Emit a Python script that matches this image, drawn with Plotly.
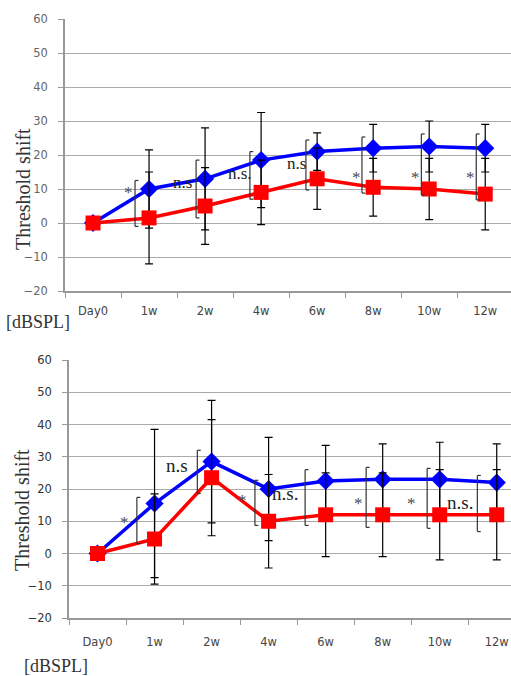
import plotly.graph_objects as go

categories = ["Day0", "1w", "2w", "4w", "6w", "8w", "10w", "12w"]

# Top chart
top_blue = [0, 10, 13, 18.5, 21, 22, 22.5, 22]
top_blue_err = [0, 11.5, 15, 14, 5.5, 7, 7.5, 7]
top_red = [0, 1.5, 5, 9, 13, 10.5, 10, 8.5]
top_red_err = [0, 13.5, 11.3, 9.5, 9, 8.5, 9, 10.5]
top_br_x = [0.75, 1.84, 2.80, 3.80, 4.80, 5.86, 6.84]
top_br_top = [12.5, 18.5, 21, 24.4, 25.3, 26.2, 26.2]
top_br_bot = [-1, 1.5, 7, 9.7, 8.8, 8.2, 6.8]
top_sig_text = ["*", "n.s", "n.s.", "n.s", "*", "*", "*"]
top_sig_x = [0.625, 1.59, 2.625, 3.64, 4.71, 5.75, 6.73]
top_sig_y = [9.1, 12, 14.7, 17.6, 13.5, 13.5, 13.5]

# Bottom chart
bot_blue = [0, 15.5, 28.5, 20, 22.5, 23, 23, 22]
bot_blue_err = [0, 23, 19, 16, 11, 11, 11.5, 12]
bot_red = [0, 4.5, 23.5, 10, 12, 12, 12, 12]
bot_red_err = [0, 14, 18, 14.5, 13, 13, 14, 14]
bot_br_x = [0.69, 1.75, 2.76, 3.64, 4.71, 5.78, 6.66]
bot_br_top = [17.4, 32, 22.7, 26, 26.7, 26.4, 24.2]
bot_br_bot = [3.1, 18.6, 8.7, 8.7, 8.1, 7.8, 6.8]
bot_sig_text = ["*", "n.s", "*", "n.s.", "*", "*", "n.s."]
bot_sig_x = [0.48, 1.39, 2.55, 3.29, 4.57, 5.5, 6.36]
bot_sig_y = [9.6, 27.3, 16.5, 18.6, 15.5, 15.5, 15.8]

yticks = [-20, -10, 0, 10, 20, 30, 40, 50, 60]

W, H = 511, 676
fig = go.Figure()

def add_series(xa, ya, blue, berr, red, rerr):
    fig.add_trace(go.Scatter(
        x=categories, y=blue, xaxis=xa, yaxis=ya, mode="lines+markers",
        line=dict(color="#0000FF", width=3.5),
        marker=dict(symbol="diamond", size=14, color="#0000FF"),
        error_y=dict(type="data", array=berr, color="black", thickness=1.2, width=4),
        showlegend=False))
    fig.add_trace(go.Scatter(
        x=categories, y=red, xaxis=xa, yaxis=ya, mode="lines+markers",
        line=dict(color="#FF0000", width=3.5),
        marker=dict(symbol="square", size=15, color="#FF0000"),
        error_y=dict(type="data", array=rerr, color="black", thickness=1.2, width=4),
        showlegend=False))

add_series("x", "y", top_blue, top_blue_err, top_red, top_red_err)
add_series("x2", "y2", bot_blue, bot_blue_err, bot_red, bot_red_err)

shapes = []
def brackets(xref, yref, bx, bt, bb):
    for x, t, b in zip(bx, bt, bb):
        d = 0.06
        ln = dict(color="#333333", width=1.2)
        shapes.append(dict(type="line", xref=xref, yref=yref, x0=x, x1=x, y0=b, y1=t, line=ln))
        shapes.append(dict(type="line", xref=xref, yref=yref, x0=x, x1=x + d, y0=t, y1=t, line=ln))
        shapes.append(dict(type="line", xref=xref, yref=yref, x0=x, x1=x + d, y0=b, y1=b, line=ln))

brackets("x", "y", top_br_x, top_br_top, top_br_bot)
brackets("x2", "y2", bot_br_x, bot_br_top, bot_br_bot)

annotations = []
def sig(xref, yref, txt, xs, ys, ns_size):
    for t, x, y in zip(txt, xs, ys):
        star = t == "*"
        annotations.append(dict(
            xref=xref, yref=yref, x=x, y=y, text=t, showarrow=False,
            xanchor="center", yanchor="middle",
            font=dict(family="Liberation Serif", size=17 if star else ns_size,
                      color="#4a4a55" if star else "#222222")))

sig("x", "y", top_sig_text, top_sig_x, top_sig_y, 17)
sig("x2", "y2", bot_sig_text, bot_sig_x, bot_sig_y, 19)

annotations += [
    dict(xref="paper", yref="paper", x=23 / W, y=1 - 189 / H, text="Threshold shift",
         textangle=-90, showarrow=False, xanchor="center", yanchor="middle",
         font=dict(family="Liberation Serif", size=20, color="#333333")),
    dict(xref="paper", yref="paper", x=22 / W, y=1 - 510 / H, text="Threshold shift",
         textangle=-90, showarrow=False, xanchor="center", yanchor="middle",
         font=dict(family="Liberation Serif", size=20, color="#333333")),
    dict(xref="paper", yref="paper", x=4 / W, y=1 - 322 / H, text="[dBSPL]",
         xanchor="left", yanchor="middle", showarrow=False,
         font=dict(family="Liberation Serif", size=18, color="#333333")),
    dict(xref="paper", yref="paper", x=22 / W, y=1 - 666 / H, text="[dBSPL]",
         xanchor="left", yanchor="middle", showarrow=False,
         font=dict(family="Liberation Serif", size=18, color="#333333")),
]

def xaxis(dom, rng, anchor, standoff):
    return dict(domain=dom, range=rng, anchor=anchor, type="category",
                showgrid=False, showline=True, linecolor="#999999", linewidth=1.5,
                ticks="outside", tickson="boundaries", ticklen=5, tickcolor="#999999",
                tickfont=dict(family="DejaVu Sans", size=11.5, color="#444444"),
                ticklabelstandoff=standoff, zeroline=False, automargin=False)

def yaxis(dom, anchor, color):
    return dict(domain=dom, range=[-20, 60], anchor=anchor, tickvals=yticks,
                showgrid=True, gridcolor="#aaaaaa", gridwidth=1.2,
                showline=True, linecolor="#999999", linewidth=1.5,
                ticks="outside", ticklen=5, tickcolor="#999999",
                tickfont=dict(family="DejaVu Sans", size=11.5, color=color),
                ticklabelstandoff=8, zeroline=False, automargin=False)

fig.update_layout(
    width=W, height=H, margin=dict(l=0, r=0, t=0, b=0, autoexpand=False),
    paper_bgcolor="white", plot_bgcolor="white",
    xaxis=xaxis([65 / W, 1], [-0.5, 7.46], "y", 8),
    yaxis=yaxis([1 - 291 / H, 1 - 19 / H], "x", "#666666"),
    xaxis2=xaxis([69 / W, 1], [-0.5, 7.25], "y2", 12),
    yaxis2=yaxis([1 - 618 / H, 1 - 360 / H], "x2", "#333333"),
    shapes=shapes, annotations=annotations,
)

fig.write_html("out.html", config={"displayModeBar": False},
               post_script="document.body.style.margin='0';document.body.style.overflow='hidden';")
